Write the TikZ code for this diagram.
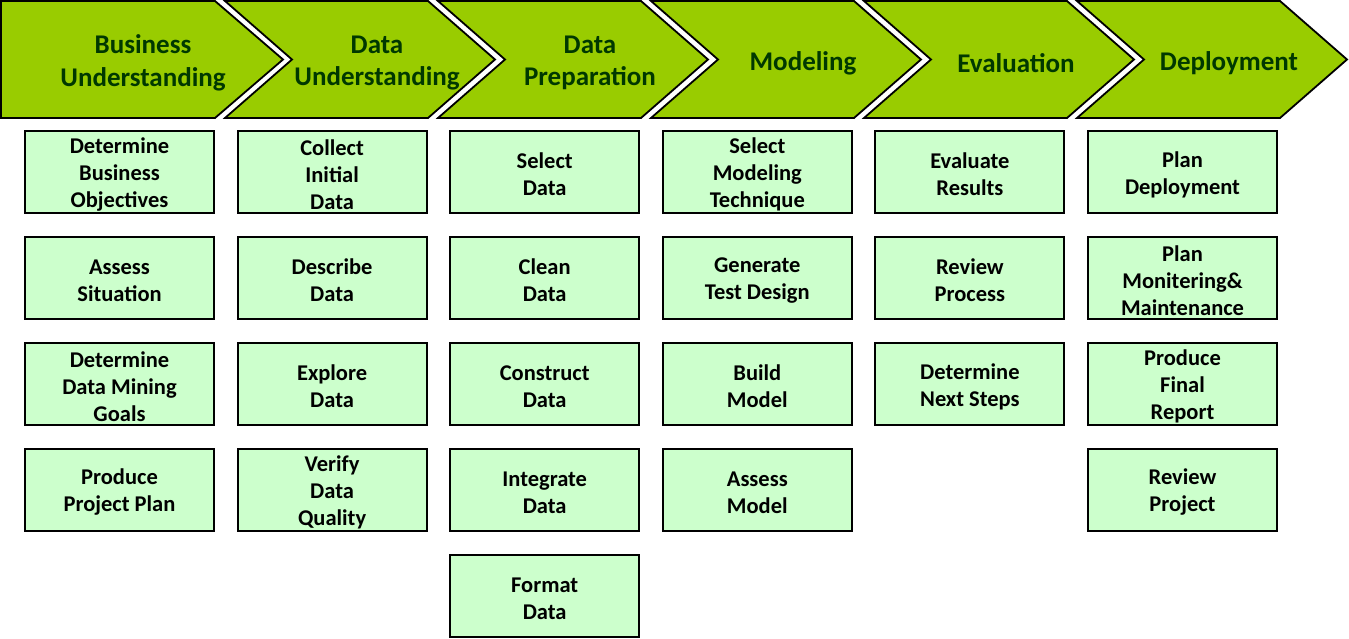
\documentclass[tikz,border=0pt]{standalone}
\usepackage{fontspec}
\setmainfont{Carlito}
\definecolor{chevfill}{HTML}{99CC00}
\definecolor{boxfill}{HTML}{CCFFCC}
\definecolor{chevtext}{HTML}{003800}
\tikzset{
  chevron/.style={draw=black, fill=chevfill, line width=1.8pt, line join=miter},
  chevlabel/.style={text=chevtext, align=center, font=\bfseries\fontsize{27}{32.5}\selectfont, inner sep=0pt},
  taskbox/.style={draw=black, fill=boxfill, line width=2pt, minimum width=189pt, minimum height=82pt,
     inner sep=0pt},
  tasktext/.style={align=center, inner sep=0pt, font=\bfseries\fontsize{22.5}{27}\selectfont}
}
\newcommand{\task}[4]{%
  \node[taskbox] (#1) at (#2,#3) {};
  \node[tasktext] (#1t) at ([yshift=-2.5pt]#1.center) {#4};
}
\begin{document}
\begin{tikzpicture}[x=1pt,y=-1pt]
\useasboundingbox (0,0) rectangle (1349,639);
% chevrons
\draw[chevron] (1,1) -- (215,1) -- (283,59.5) -- (215,118) -- (1,118) -- cycle;
\foreach \i in {1,...,5}{
  \pgfmathsetmacro{\L}{225+213*(\i-1)}
  \pgfmathsetmacro{\S}{215+213*\i}
  \draw[chevron] (\L,1) -- (\S,1) -- (\S+67,59.5) -- (\S,118) -- (\L,118) -- (\L+67,59.5) -- cycle;
}
\node[chevlabel] (c1) at (143,63) {Business\\Understanding};
\node[chevlabel] (c2) at (377,63) {Data\\Understanding};
\node[chevlabel] (c3) at (590,63) {Data\\Preparation};
\node[chevlabel] (c4) at (803,63) {Modeling};
\node[chevlabel] (c5) at (1016,63) {Evaluation};
\node[chevlabel] (c6) at (1229,63) {Deployment};
% column 1
\task{a1}{119.5}{172}{Determine\\Business\\Objectives}
\task{a2}{119.5}{278}{Assess\\Situation}
\task{a3}{119.5}{384}{Determine\\Data Mining\\Goals}
\task{a4}{119.5}{490}{Produce\\Project Plan}
% column 2
\task{b1}{332.1}{172}{Collect\\Initial\\Data}
\task{b2}{332.1}{278}{Describe\\Data}
\task{b3}{332.1}{384}{Explore\\Data}
\task{b4}{332.1}{490}{Verify\\Data\\Quality}
% column 3
\task{d1}{544.7}{172}{Select\\Data}
\task{d2}{544.7}{278}{Clean\\Data}
\task{d3}{544.7}{384}{Construct\\Data}
\task{d4}{544.7}{490}{Integrate\\Data}
\task{d5}{544.7}{596}{Format\\Data}
% column 4
\task{m1}{757.3}{172}{Select\\Modeling\\Technique}
\task{m2}{757.3}{278}{Generate\\Test Design}
\task{m3}{757.3}{384}{Build\\Model}
\task{m4}{757.3}{490}{Assess\\Model}
% column 5
\task{e1}{969.9}{172}{Evaluate\\Results}
\task{e2}{969.9}{278}{Review\\Process}
\task{e3}{969.9}{384}{Determine\\Next Steps}
% column 6
\task{p1}{1182.5}{172}{Plan\\Deployment}
\task{p2}{1182.5}{278}{Plan\\Monitering\&\\Maintenance}
\task{p3}{1182.5}{384}{Produce\\Final\\Report}
\task{p4}{1182.5}{490}{Review\\Project}
\end{tikzpicture}
\end{document}
